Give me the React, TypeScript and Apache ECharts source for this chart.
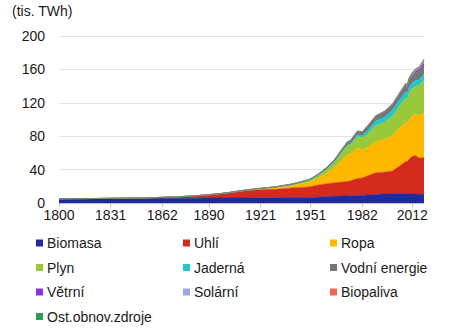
import React, { useEffect, useRef } from "react";
import * as echarts from "echarts";

const years = [1800, 1810, 1820, 1830, 1840, 1850, 1860, 1870, 1880, 1890, 1900, 1910, 1920, 1930, 1940, 1950, 1955, 1960, 1965, 1970, 1973, 1975, 1979, 1982, 1985, 1990, 1995, 2000, 2005, 2008, 2009, 2010, 2012, 2014, 2016, 2019];

const biomasa = [5.0, 5.1, 5.2, 5.3, 5.4, 5.5, 5.6, 5.7, 5.8, 5.9, 6.0, 6.1, 6.2, 6.3, 6.5, 6.7, 7.0, 7.4, 8.0, 8.3, 8.5, 8.6, 8.9, 9.1, 9.5, 10.2, 10.8, 11.2, 11.3, 11.2, 11.1, 11.0, 10.9, 10.7, 10.6, 10.4];
const uhli = [0.1, 0.13, 0.15, 0.26, 0.36, 0.57, 1.06, 1.61, 2.53, 3.87, 5.73, 8.1, 9.6, 10.1, 11.6, 12.6, 14.2, 15.4, 16.1, 16.8, 17.3, 17.9, 20.3, 20.9, 22.9, 25.9, 26.0, 27.0, 34.0, 38.6, 38.4, 41.5, 45.0, 45.9, 43.2, 43.8];
const ropa = [0, 0, 0, 0, 0, 0, 0, 0.006, 0.03, 0.09, 0.18, 0.51, 1.11, 1.96, 3.0, 5.44, 8.0, 12.1, 17.9, 26.7, 32.0, 31.9, 36.7, 33.6, 33.9, 37.5, 39.0, 42.0, 45.8, 46.5, 45.7, 47.2, 48.4, 49.6, 51.2, 53.6];
const plyn = [0, 0, 0, 0, 0, 0, 0, 0, 0.03, 0.07, 0.06, 0.17, 0.23, 0.55, 0.87, 2.09, 3.1, 4.5, 6.3, 9.6, 11.0, 11.6, 13.8, 14.5, 16.1, 19.3, 20.6, 23.9, 27.0, 29.8, 29.1, 31.6, 33.0, 34.0, 35.6, 39.3];
const jaderna = [0, 0, 0, 0, 0, 0, 0, 0, 0, 0, 0, 0, 0, 0, 0, 0, 0, 0.01, 0.07, 0.22, 0.54, 1.04, 1.7, 2.3, 4.0, 5.3, 6.1, 6.8, 7.2, 7.1, 7.0, 7.2, 6.4, 6.5, 6.7, 7.0];
const vodni = [0, 0, 0, 0, 0, 0, 0, 0, 0, 0, 0, 0.1, 0.3, 0.5, 0.8, 1.1, 1.5, 2.1, 2.7, 3.3, 3.7, 4.0, 4.5, 4.8, 5.3, 5.8, 6.5, 6.9, 7.5, 8.2, 8.2, 8.8, 9.2, 9.7, 10.1, 10.5];
const vetrni = [0, 0, 0, 0, 0, 0, 0, 0, 0, 0, 0, 0, 0, 0, 0, 0, 0, 0, 0, 0, 0, 0, 0, 0, 0, 0.01, 0.02, 0.08, 0.27, 0.58, 0.73, 0.91, 1.3, 1.8, 2.4, 3.5];
const solarni = [0, 0, 0, 0, 0, 0, 0, 0, 0, 0, 0, 0, 0, 0, 0, 0, 0, 0, 0, 0, 0, 0, 0, 0, 0, 0, 0, 0, 0.01, 0.03, 0.05, 0.08, 0.25, 0.5, 0.8, 1.8];
const biopaliva = [0, 0, 0, 0, 0, 0, 0, 0, 0, 0, 0, 0, 0, 0, 0, 0, 0, 0, 0, 0, 0, 0, 0.02, 0.04, 0.05, 0.07, 0.09, 0.11, 0.22, 0.5, 0.55, 0.62, 0.7, 0.8, 0.9, 1.1];
const ostatni = [0, 0, 0, 0, 0, 0, 0, 0, 0, 0, 0, 0, 0, 0, 0, 0, 0, 0, 0.05, 0.1, 0.12, 0.15, 0.18, 0.25, 0.4, 0.5, 0.6, 0.7, 0.8, 1.0, 1.05, 1.2, 1.3, 1.4, 1.5, 1.6];

const xTickLabels = ["1800", "1831", "1862", "1890", "1921", "1951", "1982", "2012"];
const firstYear = 1800;
const lastYear = 2019;
const yTicks = { min: 0, max: 200, interval: 40 };

// one category per calendar year so the axis is linear in time
const categories: string[] = [];
for (let y = firstYear; y <= lastYear; y++) categories.push(String(y));

const seriesDefs = [
  { name: "Biomasa", data: biomasa, color: "#1f2a9e" },
  { name: "Uhlí", data: uhli, color: "#d52b1e" },
  { name: "Ropa", data: ropa, color: "#ffb800" },
  { name: "Plyn", data: plyn, color: "#99c93a" },
  { name: "Jaderná", data: jaderna, color: "#1fc8cc" },
  { name: "Vodní energie", data: vodni, color: "#767676" },
  { name: "Větrní", data: vetrni, color: "#8a35d8" },
  { name: "Solární", data: solarni, color: "#9aa8de" },
  { name: "Biopaliva", data: biopaliva, color: "#f26552" },
  { name: "Ost.obnov.zdroje", data: ostatni, color: "#2f9e55" },
];

const legendCols = [
  ["Biomasa", "Plyn", "Větrní", "Ost.obnov.zdroje"],
  ["Uhlí", "Jaderná", "Solární"],
  ["Ropa", "Vodní energie", "Biopaliva"],
];
const legendLefts = [36, 183, 330];

const FONT = "'Liberation Sans', Arial, sans-serif";

export default function App() {
  const ref = useRef<HTMLDivElement>(null);
  useEffect(() => {
    if (!ref.current) return;
    const chart = echarts.init(ref.current, null, { renderer: "svg" });
    const showAt = (_i: number, v: string) => xTickLabels.indexOf(String(v)) >= 0;
    chart.setOption({
      animation: false,
      backgroundColor: "#ffffff",
      textStyle: { fontFamily: FONT },
      title: {
        text: "(tis. TWh)",
        left: 12,
        top: 4,
        padding: 0,
        textStyle: { fontSize: 14, fontWeight: "normal", color: "#1a1a1a", fontFamily: FONT },
      },
      grid: { left: 59, right: 50, top: 36, bottom: 133, containLabel: false },
      xAxis: {
        type: "category",
        data: categories,
        boundaryGap: false,
        axisLine: { show: true, lineStyle: { color: "#bfbfbf", width: 1 } },
        axisTick: { show: true, interval: showAt, length: 4, lineStyle: { color: "#bfbfbf" } },
        axisLabel: {
          interval: showAt,
          fontSize: 14,
          color: "#1a1a1a",
          margin: 5,
          fontFamily: FONT,
        },
        splitLine: { show: false },
      },
      yAxis: {
        type: "value",
        min: yTicks.min,
        max: yTicks.max,
        interval: yTicks.interval,
        axisLine: { show: false },
        axisTick: { show: false },
        axisLabel: { fontSize: 14, color: "#1a1a1a", margin: 14, fontFamily: FONT },
        splitLine: { lineStyle: { color: "#e3e3e3", width: 1 } },
      },
      legend: legendCols.map((col, i) => ({
        data: col,
        orient: "vertical",
        left: legendLefts[i],
        top: 236,
        padding: 0,
        itemWidth: 7,
        itemHeight: 7,
        itemGap: 10.5,
        icon: "rect",
        textStyle: { fontSize: 14, color: "#1a1a1a", fontFamily: FONT, lineHeight: 14, padding: [0, 0, 0, -1] },
      })),
      series: seriesDefs.map((s) => ({
        name: s.name,
        type: "line",
        stack: "total",
        data: years.map((y, i) => [String(y), s.data[i]]),
        showSymbol: false,
        symbol: "none",
        smooth: false,
        color: s.color,
        lineStyle: { width: 0.6, color: s.color },
        areaStyle: { color: s.color, opacity: 1 },
        emphasis: { disabled: true },
      })),
    });
    return () => chart.dispose();
  }, []);
  return (
    <div
      ref={ref}
      style={{ position: "fixed", left: 0, top: 0, width: 474, height: 336 }}
    />
  );
}
